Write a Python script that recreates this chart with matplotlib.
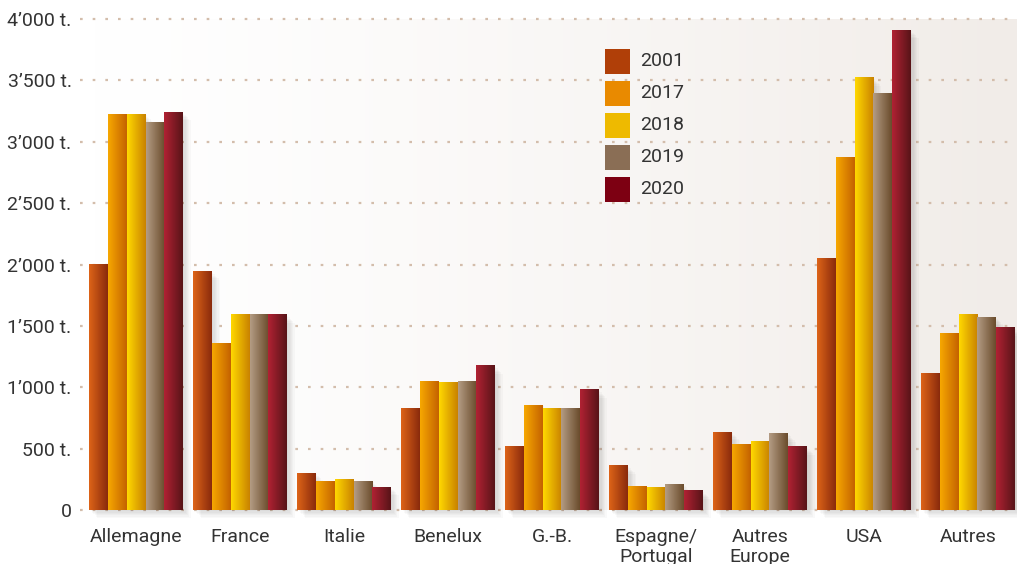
import numpy as np
import matplotlib.pyplot as plt
from matplotlib.colors import LinearSegmentedColormap
from matplotlib.patches import Rectangle

countries = ['Allemagne', 'France', 'Italie', 'Benelux', 'G.-B.',
             'Espagne/\nPortugal', 'Autres\nEurope', 'USA', 'Autres']
years = ['2001', '2017', '2018', '2019', '2020']
v2001 = [2000, 1940, 300, 830, 515, 360, 635, 2045, 1115]
v2017 = [3225, 1360, 235, 1045, 855, 195, 530, 2870, 1435]
v2018 = [3225, 1590, 245, 1035, 825, 185, 555, 3520, 1595]
v2019 = [3160, 1590, 235, 1050, 830, 205, 620, 3390, 1570]
v2020 = [3240, 1590, 185, 1175, 980, 155, 515, 3910, 1485]
yticks = [0, 500, 1000, 1500, 2000, 2500, 3000, 3500, 4000]
ylabels = ['0', '500 t.', '1’000 t.', '1’500 t.', '2’000 t.', '2’500 t.',
           '3’000 t.', '3’500 t.', '4’000 t.']

series = [v2001, v2017, v2018, v2019, v2020]
legend_colors = ['#b03f08', '#e98a00', '#eeba00', '#8a6e55', '#7d0012']
grad = [('#dd6418', '#8a2a0c'), ('#f7a800', '#c46200'), ('#ffd800', '#c98200'),
        ('#b49c84', '#6a4c2c'), ('#b02233', '#581418')]

plt.rcParams['font.family'] = ['Roboto', 'DejaVu Sans']
fs = 14
txt = '#333333'
W, H = 1017, 564
fig = plt.figure(figsize=(W / 100, H / 100), dpi=100)
ax = fig.add_axes([80 / W, 54 / H, 937 / W, 491 / H])

xmin, xmax = -0.54, 8.47
ax.set_xlim(xmin, xmax)
ax.set_ylim(0, 4000)

# background gradient
bg = LinearSegmentedColormap.from_list('bg', ['#ffffff', '#f1ece8'])
ax.imshow(np.linspace(0, 1, 256).reshape(1, -1) ** 1.3, cmap=bg, aspect='auto',
          extent=[xmin, xmax, 0, 4000], zorder=0)

for t in yticks:
    ax.axhline(t, color='#d3bdab', linestyle=(0, (1.2, 4.5)), linewidth=1.6,
               zorder=1, clip_on=False)

w = 0.18
px_x = 1 / 104.0
px_y = 4000 / 491.0
ramp = np.linspace(0, 1, 64).reshape(1, -1)
for i, vals in enumerate(series):
    cmap = LinearSegmentedColormap.from_list('g%d' % i, list(grad[i]))
    for j, v in enumerate(vals):
        x0 = j - 2.5 * w + i * w
        # soft shadow
        for k in range(1, 7):
            ax.add_patch(Rectangle((x0 + k * 1.3 * px_x, -k * 1.3 * px_y), w, v,
                                   facecolor='#000000', alpha=0.025, linewidth=0,
                                   zorder=2, clip_on=False))
        ax.imshow(ramp, cmap=cmap, aspect='auto', extent=[x0, x0 + w, 0, v],
                  zorder=3 + i * 0.01 + j * 0.001)

ax.set_xlim(xmin, xmax)
ax.set_ylim(0, 4000)

for s in ax.spines.values():
    s.set_visible(False)
ax.set_xticks(range(len(countries)))
ax.set_xticklabels(countries, fontsize=fs, color=txt, linespacing=1.15,
                   va='top')
ax.set_yticks(yticks)
ax.set_yticklabels(ylabels, fontsize=fs, color=txt)
ax.tick_params(axis='both', length=0)
ax.tick_params(axis='y', pad=6)
ax.tick_params(axis='x', pad=13)

# legend: squares and labels
for i, (c, y) in enumerate(zip(legend_colors, years)):
    top = 49 + i * 32
    fig.patches.append(Rectangle((605 / W, 1 - (top + 25) / H), 25 / W, 25 / H,
                                 facecolor=c, edgecolor='none',
                                 transform=fig.transFigure, figure=fig))
    fig.text(640 / W, 1 - (top + 12.5) / H, y, fontsize=fs, color=txt,
             va='center', ha='left')

fig.savefig('out.png', dpi=100)
